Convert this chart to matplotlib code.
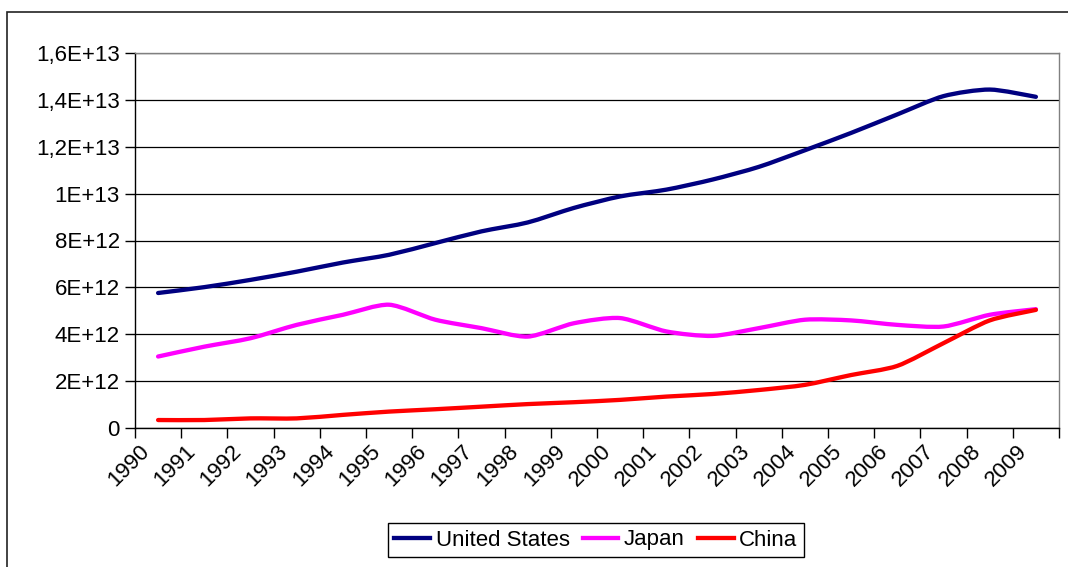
import numpy as np
import matplotlib
matplotlib.use("Agg")
import matplotlib.pyplot as plt
from matplotlib.path import Path
from matplotlib.patches import PathPatch, Rectangle
from matplotlib.lines import Line2D

plt.rcParams["font.family"] = ["Liberation Sans", "DejaVu Sans"]

# GDP, current US$ (units of 1E+12)
years = [str(y) for y in range(1990, 2010)]
usa = [5.76, 6.01, 6.32, 6.67, 7.06, 7.39, 7.89, 8.39, 8.77, 9.39,
       9.88, 10.17, 10.60, 11.14, 11.85, 12.59, 13.38, 14.16, 14.44, 14.13]
japan = [3.05, 3.47, 3.83, 4.40, 4.83, 5.26, 4.62, 4.26, 3.90, 4.47,
         4.69, 4.12, 3.93, 4.26, 4.62, 4.59, 4.40, 4.33, 4.83, 5.07]
china = [0.34, 0.34, 0.41, 0.41, 0.56, 0.70, 0.80, 0.91, 1.02, 1.10,
         1.20, 1.34, 1.45, 1.62, 1.84, 2.26, 2.65, 3.62, 4.59, 5.04]
series = [("United States", usa, "#000080"),
          ("Japan", japan, "#FF00FF"),
          ("China", china, "#FF0000")]
ytick_labels = ["0", "2E+12", "4E+12", "6E+12", "8E+12", "1E+13",
                "1,2E+13", "1,4E+13", "1,6E+13"]


def smooth_path(x, y):
    # bezier segments like a spreadsheet "smoothed line"
    pts = np.column_stack([x, y])
    n = len(pts)
    verts = [pts[0]]
    codes = [Path.MOVETO]
    for i in range(n - 1):
        p0 = pts[i - 1] if i > 0 else pts[i]
        p1 = pts[i]
        p2 = pts[i + 1]
        p3 = pts[i + 2] if i + 2 < n else pts[i + 1]
        c1 = p1 + (p2 - p0) / 8.0
        c2 = p2 - (p3 - p1) / 8.0
        verts += [c1, c2, p2]
        codes += [Path.CURVE4] * 3
    return Path(verts, codes)


fig = plt.figure(figsize=(10.68, 5.67), dpi=100)
fig.patches.append(Rectangle((7 / 1068, -0.1), 1.2, 1.1 - 12 / 567,
                             transform=fig.transFigure, fill=False,
                             edgecolor="#222222", linewidth=1.2))

ax = fig.add_axes([135 / 1068, 1 - 428 / 567, 924 / 1068, 375 / 567])
x = np.arange(len(years)) + 0.5
handles = []
for name, vals, col in series:
    path = smooth_path(x, np.array(vals) * 1e12)
    ax.add_patch(PathPatch(path, fill=False, edgecolor=col, linewidth=3.1,
                           capstyle="round", joinstyle="round", zorder=3))
    handles.append(Line2D([], [], color=col, linewidth=3.1, label=name))

ax.set_xlim(0, len(years))
ax.set_ylim(0, 1.6e13)
yt = np.arange(0, 1.61e13, 2e12)
ax.set_yticks(yt)
ax.set_yticklabels(ytick_labels, fontsize=16)
ax.yaxis.grid(True, color="#000000", linewidth=0.9)
ax.set_axisbelow(True)

ax.set_xticks(np.arange(len(years) + 1))
ax.set_xticklabels([])
ax.set_xticks(x - 0.1, minor=True)
ax.set_xticklabels(years, minor=True, rotation=45, ha="right", fontsize=16)
ax.tick_params(axis="x", which="minor", length=0, pad=9)
ax.tick_params(axis="both", which="major", length=7, width=1, color="black",
               direction="out")
ax.tick_params(axis="y", pad=4)

ax.spines["left"].set_color("black")
ax.spines["bottom"].set_color("black")
ax.spines["top"].set_color("#808080")
ax.spines["right"].set_color("#808080")
for s in ax.spines.values():
    s.set_linewidth(1)

fig.legend(handles=handles, loc="center", ncol=3,
           bbox_to_anchor=(596 / 1068, 1 - 540 / 567), fontsize=16,
           frameon=True, fancybox=False, edgecolor="black", framealpha=1,
           handlelength=1.6, handletextpad=0.25, columnspacing=0.6,
           borderpad=0.3, borderaxespad=0)

fig.savefig("out.png", dpi=100)
